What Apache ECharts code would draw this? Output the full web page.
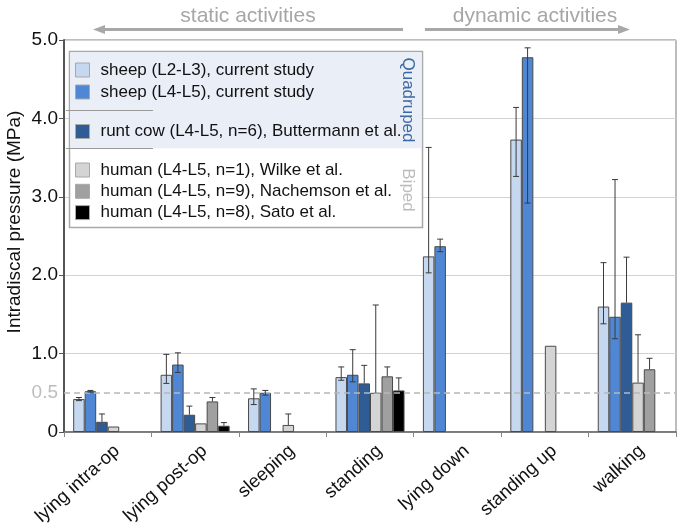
<!DOCTYPE html>
<html><head><meta charset="utf-8">
<script src="https://cdn.jsdelivr.net/npm/echarts@6/dist/echarts.min.js"></script>
<style>html,body{margin:0;padding:0;background:#fff}#c{width:683px;height:530px}</style>
</head><body><div id="c"></div>
<script>
const categories = ['lying intra-op','lying post-op','sleeping','standing','lying down','standing up','walking'];
const seriesNames = ['sheep (L2-L3), current study','sheep (L4-L5), current study','runt cow (L4-L5, n=6), Buttermann et al.','human (L4-L5, n=1), Wilke et al.','human (L4-L5, n=9), Nachemson et al.','human (L4-L5, n=8), Sato et al.'];
const sheepL23 = [0.42, 0.73, 0.43, 0.70, 2.24, 3.73, 1.60];
const sheepL23Low = [0.40, 0.62, 0.35, 0.66, 2.03, 3.26, 1.38];
const sheepL23High = [0.44, 0.99, 0.55, 0.83, 3.63, 4.14, 2.16];
const sheepL45 = [0.52, 0.86, 0.50, 0.73, 2.37, 4.78, 1.47];
const sheepL45Low = [0.51, 0.76, 0.47, 0.64, 2.30, 2.92, 1.19];
const sheepL45High = [0.53, 1.01, 0.53, 1.05, 2.46, 4.90, 3.22];
const runtCow = [0.13, 0.22, null, 0.62, null, null, 1.65];
const runtCowLow = [null, null, null, null, null, null, null];
const runtCowHigh = [0.23, 0.33, null, 0.85, null, null, 2.23];
const wilke = [0.07, 0.11, 0.09, 0.50, null, 1.10, 0.63];
const wilkeLow = [null, null, null, null, null, null, null];
const wilkeHigh = [null, null, 0.23, 1.62, null, null, 1.24];
const nachemson = [null, 0.39, null, 0.71, null, null, 0.80];
const nachemsonLow = [null, null, null, null, null, null, null];
const nachemsonHigh = [null, 0.44, null, 0.83, null, null, 0.94];
const sato = [null, 0.08, null, 0.53, null, null, null];
const satoLow = [null, null, null, null, null, null, null];
const satoHigh = [null, 0.12, null, 0.69, null, null, null];
const yTicks = [0, 1, 2, 3, 4, 5];
const refLine = 0.5;

const values = [sheepL23, sheepL45, runtCow, wilke, nachemson, sato];
const lows = [sheepL23Low, sheepL45Low, runtCowLow, wilkeLow, nachemsonLow, satoLow];
const highs = [sheepL23High, sheepL45High, runtCowHigh, wilkeHigh, nachemsonHigh, satoHigh];
const colors = ['#c6d8f0', '#4f87d4', '#2f5c94', '#d4d4d4', '#a0a0a0', '#000000'];
const GAP = 0.21;
const FONT = '"Liberation Sans", Arial, sans-serif';

const errData = [];
values.forEach((vals, s) => {
  vals.forEach((v, i) => {
    const hi = highs[s][i];
    if (hi == null || v == null) return;
    const lo = lows[s][i];
    errData.push([i, lo == null ? v : lo, hi, s, lo == null ? 0 : 1]);
  });
});

function renderErr(params, api) {
  const c = api.value(0), lo = api.value(1), hi = api.value(2), s = api.value(3), hasLo = api.value(4);
  const band = api.size([1, 0])[0];
  const bw = band * (1 - GAP) / 6;
  const x = api.coord([c, 0])[0] + (s - 2.5) * bw;
  const yLo = api.coord([c, lo])[1], yHi = api.coord([c, hi])[1];
  const cap = 3;
  const st = { stroke: '#3a3a3a', lineWidth: 1 };
  const ch = [
    { type: 'line', shape: { x1: x, y1: yHi, x2: x, y2: yLo }, style: st },
    { type: 'line', shape: { x1: x - cap, y1: yHi, x2: x + cap, y2: yHi }, style: st }
  ];
  if (hasLo) ch.push({ type: 'line', shape: { x1: x - cap, y1: yLo, x2: x + cap, y2: yLo }, style: st });
  return { type: 'group', children: ch };
}

const series = values.map((vals, s) => ({
  name: seriesNames[s], type: 'bar', data: vals, barGap: '0%', barCategoryGap: (GAP * 100) + '%',
  itemStyle: { color: colors[s], borderColor: '#4a4a4a', borderWidth: 1 }, z: 3, silent: true
}));
series.push({
  type: 'line', data: [], z: 1, silent: true,
  markLine: {
    silent: true, symbol: 'none', data: [{ yAxis: refLine }],
    lineStyle: { type: [6, 4], color: '#b8b8b8', width: 1.5 },
    label: { position: 'start', formatter: '0.5', color: '#bdbdbd', fontSize: 19, fontFamily: FONT, distance: 6 }
  }
});
series.push({ type: 'custom', renderItem: renderErr, data: errData, z: 5, silent: true, encode: { x: 0, y: [1, 2] } });

function legendFor(names, top, gap) {
  return {
    data: names, orient: 'vertical', left: 75, top: top, padding: 0, itemGap: gap,
    itemWidth: 14, itemHeight: 14, icon: 'rect', selectedMode: false, z: 50,
    itemStyle: { borderColor: '#a8a8a8', borderWidth: 1 },
    textStyle: { fontSize: 17, color: '#111', fontFamily: FONT, lineHeight: 16, padding: [0, 0, 0, 6] }
  };
}

function arrow(x1, x2, y) {
  const dir = x2 > x1 ? 1 : -1;
  const head = 12;
  return [
    { type: 'line', shape: { x1: x1, y1: y, x2: x2 - dir * head, y2: y }, style: { stroke: '#a8a8a8', lineWidth: 3 }, z: 60 },
    { type: 'polygon', shape: { points: [[x2, y], [x2 - dir * head, y - 4.5], [x2 - dir * head, y + 4.5]] }, style: { fill: '#a8a8a8' }, z: 60 }
  ];
}

const chart = echarts.init(document.getElementById('c'), null, { renderer: 'canvas' });
chart.setOption({
  animation: false,
  textStyle: { fontFamily: FONT },
  grid: { left: 64, right: 7, top: 40, bottom: 98, show: true, borderColor: '#7a7a7a', borderWidth: 1, outerBoundsMode: 'none', containLabel: false },
  xAxis: {
    type: 'category', data: categories,
    axisLine: { lineStyle: { color: '#666', width: 1.5 } },
    axisTick: { show: true, length: 5, lineStyle: { color: '#888' } },
    axisLabel: {
      rotate: 42, interval: 0, color: '#111', margin: 6, fontFamily: FONT,
      formatter: v => '{c|' + v + '}',
      rich: { c: { fontSize: 18.5, color: '#111', fontFamily: FONT, padding: [28, 0, 0, 0] } }
    }
  },
  yAxis: {
    type: 'value', min: yTicks[0], max: yTicks[yTicks.length - 1], interval: 1,
    axisLine: { show: true, lineStyle: { color: '#555', width: 2 } },
    axisTick: { show: true, length: 5, lineStyle: { color: '#555' } },
    axisLabel: { fontSize: 19, color: '#111', margin: 6, fontFamily: FONT, formatter: v => v === 0 ? '0' : v.toFixed(1) },
    splitLine: { lineStyle: { color: '#d2d2d2', width: 1 } }
  },
  legend: [
    legendFor([seriesNames[0], seriesNames[1]], 61.5, 5),
    legendFor([seriesNames[2]], 123, 5),
    legendFor([seriesNames[3], seriesNames[4], seriesNames[5]], 161.5, 4.3)
  ],
  graphic: [
    { type: 'rect', shape: { x: 69.5, y: 51.5, width: 353, height: 176 }, style: { fill: '#fff', stroke: '#a9a9a9', lineWidth: 1.5 }, z: 40 },
    { type: 'rect', shape: { x: 70.3, y: 52.3, width: 351.4, height: 96 }, style: { fill: '#e9eef7' }, z: 41 },
    { type: 'line', shape: { x1: 66, y1: 110.5, x2: 153, y2: 110.5 }, style: { stroke: '#9a9a9a', lineWidth: 1 }, z: 42 },
    { type: 'line', shape: { x1: 66, y1: 148.5, x2: 153, y2: 148.5 }, style: { stroke: '#9a9a9a', lineWidth: 1 }, z: 42 },
    { type: 'text', x: 408, y: 100, rotation: -Math.PI / 2, style: { text: 'Quadruped', fontSize: 17, fill: '#3e68a3', fontFamily: FONT, align: 'center', verticalAlign: 'middle' }, z: 45 },
    { type: 'text', x: 408, y: 190, rotation: -Math.PI / 2, style: { text: 'Biped', fontSize: 17, fill: '#bcbcbc', fontFamily: FONT, align: 'center', verticalAlign: 'middle' }, z: 45 },
    { type: 'text', x: 15, y: 222, rotation: Math.PI / 2, style: { text: 'Intradiscal pressure (MPa)', fontSize: 19, fill: '#111', fontFamily: FONT, align: 'center', verticalAlign: 'middle' }, z: 45 },
    { type: 'text', x: 248, y: 16, style: { text: 'static activities', fontSize: 21, fill: '#a6a6a6', fontFamily: FONT, align: 'center', verticalAlign: 'middle' }, z: 60 },
    { type: 'text', x: 535, y: 16, style: { text: 'dynamic activities', fontSize: 21, fill: '#a6a6a6', fontFamily: FONT, align: 'center', verticalAlign: 'middle' }, z: 60 },
    ...arrow(403, 93, 29.5),
    ...arrow(425, 630, 29.5)
  ],
  series: series
});
</script></body></html>
